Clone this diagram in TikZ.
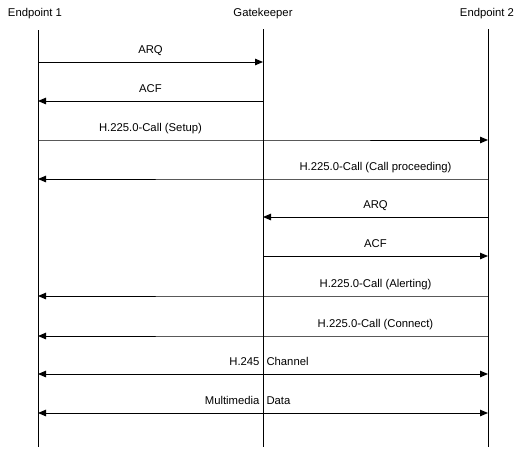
\documentclass[tikz,border=0pt]{standalone}
\usepackage{fontspec}
\setmainfont{Liberation Sans}
\usetikzlibrary{arrows.meta}

\begin{document}
\begin{tikzpicture}[
x=1pt, y=-1pt,
font=\fontsize{11.3}{13}\selectfont,
line width=1pt,
msg/.style={-{Triangle[length=8pt,width=6.5pt]}},
both/.style={{Triangle[length=8pt,width=6.5pt]}-{Triangle[length=8pt,width=6.5pt]}},
lbl/.style={anchor=base, inner sep=0pt, yshift=9pt},
]
\useasboundingbox (0,0) rectangle (516,450);
\node (ep1) at (35,14) {Endpoint 1};
\node (gk) at (263,14) {Gatekeeper};
\node (ep2) at (487,14) {Endpoint 2};
% lifelines
\coordinate (atop) at (38,30);
\coordinate (gtop) at (263,29);
\coordinate (btop) at (488,29);
\coordinate (abot) at (38,447);
\coordinate (gbot) at (263,447);
\coordinate (bbot) at (488,447);
\draw (atop) -- (abot);
\draw (gtop) -- (gbot);
\draw (btop) -- (bbot);
% one row of points for each message
\foreach \i/\y in {1/62,2/101,3/140,4/179,5/217,6/256,7/296,8/336,9/374,10/413}{
  \coordinate (a\i) at (38,\y);
  \coordinate (g\i) at (263,\y);
  \coordinate (b\i) at (488,\y);
}
\draw[msg] (a1) -- node[lbl] {ARQ} (g1);
\draw[msg] (g2) -- node[lbl] {ACF} (a2);
\draw[msg] (a3) -- node[lbl] {H.225.0-Call (Setup)} (g3) -- (b3);
\draw[msg] (b4) -- node[lbl] {H.225.0-Call (Call proceeding)} (g4) -- (a4);
\draw[msg] (b5) -- node[lbl] {ARQ} (g5);
\draw[msg] (g6) -- node[lbl] {ACF} (b6);
\draw[msg] (b7) -- node[lbl] {H.225.0-Call (Alerting)} (g7) -- (a7);
\draw[msg] (b8) -- node[lbl] {H.225.0-Call (Connect)} (g8) -- (a8);
\draw[both] (a9) -- (b9);
\node[lbl, anchor=base east, xshift=-3pt] (h245) at (g9) {H.245};
\node[lbl, anchor=base west, xshift=3pt] (chan) at (g9) {Channel};
\draw[both] (a10) -- (b10);
\node[lbl, anchor=base east, xshift=-3pt] (mm) at (g10) {Multimedia};
\node[lbl, anchor=base west, xshift=3pt] (data) at (g10) {Data};
\end{tikzpicture}
\end{document}
